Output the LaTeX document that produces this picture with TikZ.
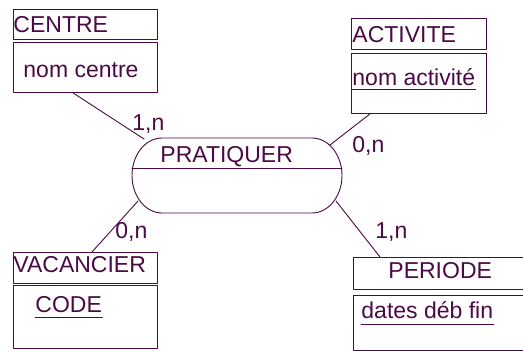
\documentclass[tikz,border=0pt]{standalone}
\usepackage{fontspec}
\setmainfont{Liberation Sans}
\definecolor{merise}{HTML}{4B0A45}
\begin{document}
\begin{tikzpicture}[x=1pt, y=-1pt, font=\fontsize{23}{27}\selectfont, line join=round, line cap=round, color=merise, line width=0.9pt,
	box/.style={draw, inner sep=0pt, anchor=north west},
	txt/.style={inner sep=0pt, anchor=base west}]
		\useasboundingbox[fill=white] (0,0) rectangle (523,351);
		\node[box, minimum width=144pt, minimum height=30pt] (centreH) at (13,9) {};
		\node[box, minimum width=144pt, minimum height=50pt] (centreB) at (13,42) {};
		\node[box, minimum width=135pt, minimum height=31pt] (activiteH) at (351,18) {};
		\node[box, minimum width=135pt, minimum height=60pt] (activiteB) at (351,53) {};
		\node[box, minimum width=144pt, minimum height=31pt] (vacancierH) at (13,252) {};
		\node[box, minimum width=144pt, minimum height=63pt] (vacancierB) at (13,285) {};
		\node[box, minimum width=180pt, minimum height=32pt] (periodeH) at (353,257) {};
		\node[box, minimum width=180pt, minimum height=55pt] (periodeB) at (353,295) {};
		\node[minimum width=210pt, minimum height=75pt, inner sep=0pt, outer sep=0pt] (rel) at (237,175.5) {};
		\draw ([xshift=30pt]rel.north west) -- ([xshift=-30pt]rel.north east)
			arc[start angle=90, end angle=-90, x radius=30pt, y radius=37.5pt]
			-- ([xshift=30pt]rel.south west)
			arc[start angle=270, end angle=90, x radius=30pt, y radius=37.5pt] -- cycle;
		\draw ([yshift=7.5pt]rel.west) -- ([yshift=7.5pt]rel.east);
		\node[txt] (tCentre) at (13,32) {CENTRE};
		\node[txt] (tNomCentre) at (23,77) {nom centre};
		\node[txt] (tActivite) at (352,42) {ACTIVITE};
		\node[txt] (tNomActivite) at (352,85) {nom activité};
		\node[txt] (tVacancier) at (13,272) {VACANCIER};
		\node[txt] (tCode) at (35,312) {CODE};
		\node[txt] (tPeriode) at (388,278) {PERIODE};
		\node[txt] (tDates) at (361,318) {dates déb fin};
		\node[txt] (tRel) at (160,162) {PRATIQUER};
		\draw ([yshift=-4pt]tNomActivite.base west) -- ([yshift=-4pt]tNomActivite.base east);
		\draw ([yshift=-5pt]tCode.base west) -- ([yshift=-5pt]tCode.base east);
		\draw ([yshift=-6pt]tDates.base west) -- ([yshift=-6pt]tDates.base east);
		\draw ([xshift=60pt]centreB.south west) -- ([xshift=12pt,yshift=-1pt]rel.north west);
		\draw ([xshift=19pt]activiteB.south west) -- ([xshift=-12pt,yshift=-7pt]rel.north east);
		\draw ([xshift=79pt]vacancierH.north west) -- ([xshift=6pt,yshift=12pt]rel.south west);
		\draw ([xshift=27pt]periodeH.north west) -- ([xshift=-6pt,yshift=12pt]rel.south east);
		\node[txt] (cCentre) at (132,130) {1,n};
		\node[txt] (cActivite) at (352,152) {0,n};
		\node[txt] (cVacancier) at (115,238) {0,n};
		\node[txt] (cPeriode) at (375,238) {1,n};
	\end{tikzpicture}
\end{document}
